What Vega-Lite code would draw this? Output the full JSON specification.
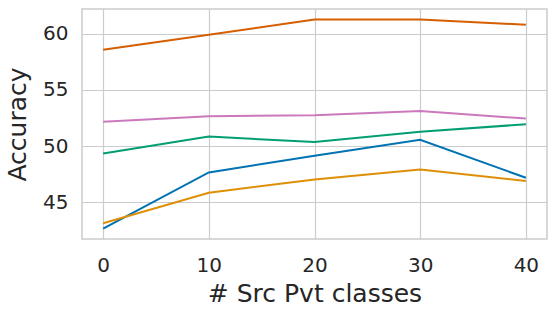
{
  "$schema": "https://vega.github.io/schema/vega-lite/v6.json",
  "width": 465,
  "height": 230,
  "autosize": {"type": "none"},
  "padding": {"left": 82, "top": 9, "right": 10, "bottom": 77},
  "background": "white",
  "config": {
    "font": "DejaVu Sans",
    "view": {"stroke": "#cccccc", "strokeWidth": 1.5},
    "axis": {
      "grid": true,
      "gridColor": "#cccccc",
      "gridWidth": 1.2,
      "domain": false,
      "ticks": false,
      "labelFont": "DejaVu Sans",
      "labelFontSize": 20,
      "labelColor": "#262626",
      "titleFont": "DejaVu Sans",
      "titleFontSize": 25,
      "titleFontWeight": "normal",
      "titleColor": "#262626"
    }
  },
  "data": {
    "values": [
      {"classes": 0, "series": "A", "acc": 42.67},
      {"classes": 10, "series": "A", "acc": 47.66},
      {"classes": 20, "series": "A", "acc": 49.14},
      {"classes": 30, "series": "A", "acc": 50.56},
      {"classes": 40, "series": "A", "acc": 47.19},
      {"classes": 0, "series": "B", "acc": 43.14},
      {"classes": 10, "series": "B", "acc": 45.86},
      {"classes": 20, "series": "B", "acc": 47.04},
      {"classes": 30, "series": "B", "acc": 47.93},
      {"classes": 40, "series": "B", "acc": 46.9},
      {"classes": 0, "series": "C", "acc": 49.35},
      {"classes": 10, "series": "C", "acc": 50.86},
      {"classes": 20, "series": "C", "acc": 50.36},
      {"classes": 30, "series": "C", "acc": 51.27},
      {"classes": 40, "series": "C", "acc": 51.95},
      {"classes": 0, "series": "D", "acc": 58.58},
      {"classes": 10, "series": "D", "acc": 59.9},
      {"classes": 20, "series": "D", "acc": 61.27},
      {"classes": 30, "series": "D", "acc": 61.27},
      {"classes": 40, "series": "D", "acc": 60.8},
      {"classes": 0, "series": "E", "acc": 52.16},
      {"classes": 10, "series": "E", "acc": 52.66},
      {"classes": 20, "series": "E", "acc": 52.75},
      {"classes": 30, "series": "E", "acc": 53.13},
      {"classes": 40, "series": "E", "acc": 52.45}
    ]
  },
  "mark": {"type": "line", "strokeWidth": 2},
  "encoding": {
    "x": {
      "field": "classes",
      "type": "quantitative",
      "title": "# Src Pvt classes",
      "scale": {"domain": [-2, 42], "nice": false, "zero": false},
      "axis": {"values": [0, 10, 20, 30, 40], "labelPadding": 16, "titlePadding": 6}
    },
    "y": {
      "field": "acc",
      "type": "quantitative",
      "title": "Accuracy",
      "scale": {"domain": [41.74, 62.2], "nice": false, "zero": false},
      "axis": {"values": [45, 50, 55, 60], "labelPadding": 14, "titlePadding": 12}
    },
    "color": {
      "field": "series",
      "type": "nominal",
      "scale": {"domain": ["A", "B", "C", "D", "E"], "range": ["#0173b2", "#de8f05", "#029e73", "#d55e00", "#cc78bc"]},
      "legend": null
    }
  }
}
